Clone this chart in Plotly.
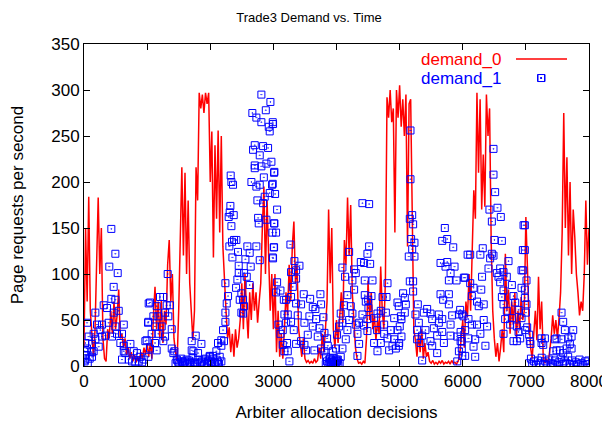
import plotly.graph_objects as go

# ---- demand_0 (red line), sampled every 25 decisions ----
red_step = 25
demand_0 = [
    # 0 - 1000
    20, 150, 70, 184, 60, 30, 10, 40, 120, 183, 100, 150, 30, 8, 5, 40, 30, 60, 35, 70,
    40, 55, 83, 30, 35, 20, 30, 12, 20, 8, 15, 5, 12, 4, 10, 6, 15, 8, 20, 12, 25,
    # 1025 - 1975
    10, 25, 8, 55, 86, 40, 70, 30, 72, 25, 60, 45, 110, 137, 70, 100, 30, 15, 5, 60,
    145, 216, 120, 210, 100, 180, 90, 60, 28, 60, 216, 180, 297, 280, 295, 275, 297, 285, 297,
    # 2000 - 3000
    200, 255, 118, 240, 160, 256, 145, 250, 130, 90, 60, 30, 42, 15, 35, 10, 40, 20, 30, 50,
    90, 40, 100, 60, 30, 80, 50, 90, 60, 80, 47, 70, 90, 150, 195, 100, 180, 120, 60, 100, 40,
    # 3025 - 4000
    100, 15, 60, 10, 35, 8, 40, 80, 55, 110, 70, 130, 157, 90, 110, 40, 25, 10, 30, 8,
    4, 6, 3, 5, 3, 8, 4, 6, 20, 8, 35, 15, 40, 70, 170, 90, 150, 40, 20, 50,
    # 4025 - 5000
    25, 55, 80, 47, 137, 110, 183, 120, 175, 80, 50, 20, 8, 3, 4, 2, 5, 3, 30, 93,
    50, 80, 40, 55, 28, 50, 35, 108, 60, 40, 93, 292, 270, 300, 265, 280, 145, 300, 270, 305,
    # 5025 - 6000
    260, 290, 250, 295, 130, 285, 290, 160, 40, 28, 10, 35, 15, 40, 8, 25, 10, 15, 5, 3,
    6, 2, 4, 2, 5, 3, 6, 2, 4, 3, 5, 2, 6, 3, 4, 2, 5, 10, 30, 50,
    # 6025 - 7000
    20, 70, 53, 100, 60, 118, 191, 160, 297, 210, 290, 170, 230, 173, 295, 250, 280, 137, 60, 30,
    10, 25, 5, 20, 40, 15, 122, 60, 83, 35, 70, 45, 80, 30, 60, 40, 75, 50, 60, 162,
    # 7025 - 8000
    100, 50, 20, 8, 35, 60, 28, 97, 40, 70, 10, 3, 8, 2, 15, 30, 55, 35, 50, 30,
    52, 80, 145, 275, 150, 227, 120, 200, 100, 170, 140, 100, 80, 55, 70, 60, 100, 180, 110, 150,
]
demand_0_x = [i * red_step for i in range(len(demand_0))]

# ---- demand_1 (blue squares) ----
demand_1_x = [
    # 0 - 1000
    433, 497, 401, 534, 470, 433, 497, 48, 180, 312, 365, 470, 550, 206, 286, 390, 497, 630,
    74, 153, 259, 338, 444, 523, 602, 21, 127, 233, 48, 153, 5, 21, 127, 180, 286, 576, 630,
    655, 735, 788, 840, 893, 946, 972, 1025, 1014, 708, 761, 814, 867, 920, 602, 630,
    10, 30, 60, 90, 120,
    # 1000 - 2000
    1326, 1046, 1204, 1257, 1151, 1310, 1363, 1099, 1178, 1284, 1336, 1020, 1125, 1231, 1390,
    1072, 1178, 1284, 993, 1125, 1257, 1046, 1151, 1020, 1390, 1416, 1469, 1548, 1627, 1706,
    1770, 1733, 1807, 1860, 1913, 1966, 1495, 1574, 1680, 1760, 1860, 2019, 1432, 1706, 1993,
    1450, 1480, 1510, 1540, 1570, 1600, 1630, 1660, 1690, 1720, 1750, 1780, 1810, 1840, 1870,
    1900, 1930, 1960, 1990, 2020, 2050, 2080, 2110, 2140,
    # 2000 - 3000
    2810, 2953, 2880, 2667, 2731, 2810, 2995, 2927, 2942, 2705, 2837, 2916, 2678, 2784, 2969,
    2890, 2705, 2810, 2705, 3011, 2849, 2652, 2784, 2979, 2731, 2942, 2863, 2747, 2837, 3011,
    2758, 2768, 2890, 2985, 3011, 2995, 2324, 2335, 2361, 2319, 2308, 2372, 2292, 2335, 2377,
    2414, 2345, 2303, 2440, 2351, 2588, 2731, 2625, 2557, 2784, 2451, 2641, 2536, 2451, 2578,
    2240, 2430, 2625, 2409, 2493, 2282, 2520, 2467, 2261, 2536, 2493, 2240, 2520, 2203, 2240,
    2176, 2218, 2123, 2176, 2097, 2044, 1991, 2150, 2018, 2071, 2123, 2176,
    # 3000 - 4000
    2990, 3016, 2990, 3027, 3059, 3016, 3043, 3006, 2990, 3270, 3333, 3413, 3280, 3360, 3360,
    3307, 3059, 3112, 3043, 3165, 3202, 3280, 3481, 3582, 3745, 3360, 3439, 3624, 3756, 3666,
    3793, 3677, 3228, 3175, 3386, 3571, 3080, 3202, 3280, 3492, 3624, 3149, 3323, 3730, 3809,
    3112, 3545, 3703, 3851, 3439, 3360, 3492, 3217, 3149, 3518, 3650, 3756, 3809, 3175, 3228,
    3254, 3835, 3888, 3915, 3967, 4020, 3941, 3993, 4009, 3862,
    3830, 3850, 3870, 3890, 3910, 3930, 3950, 3970, 3990, 4010, 4030, 4050, 3900, 3940,
    # 4000 - 5000
    4411, 4517, 4517, 4490, 4200, 4385, 4437, 4533, 4094, 4279, 4305, 4136, 4252, 4448, 4570,
    4808, 4279, 4173, 4448, 4554, 4729, 4792, 4501, 4120, 4226, 4464, 4966, 4506, 4067, 4252,
    4411, 4649, 4702, 4782, 4200, 4358, 4490, 4596, 4914, 5020, 4094, 4305, 4437, 4755, 4041,
    4173, 4490, 4643, 4861, 4966, 4147, 4332, 4358, 4596, 4702, 4808, 4914, 4993, 4094, 4332,
    4649, 4834, 4940, 4067, 3989, 4015, 4887, 4755,
    # 5000 - 6000
    5172, 5172, 5199, 5161, 5214, 5716, 5675, 5754, 5849, 5182, 5235, 5199, 5235, 5145, 5648,
    5754, 5870, 5727, 5807, 5780, 5902, 6018, 5161, 5214, 5214, 5055, 5648, 5082, 5780, 5690,
    5098, 5288, 5780, 4987, 5436, 5082, 5251, 5383, 5489, 5621, 5833, 5939, 5992, 5029, 5516,
    5675, 5304, 5621, 5807, 5002, 5277, 5409, 5542, 5675, 5966, 5029, 5357, 5595, 5807, 5913,
    5277, 5489, 5330, 5516, 4987, 5701, 5966, 5939, 5595, 5357, 5913, 5992,
    # 6000 - 7000
    6487, 6487, 6513, 6423, 6550, 6603, 6461, 6963, 6502, 6620, 6952, 6317, 6077, 6118, 6279,
    6461, 6434, 6487, 6725, 6408, 6593, 6931, 6540, 6646, 6038, 6306, 6566, 6698, 6118, 6593,
    6778, 6931, 6171, 6293, 6646, 6144, 6804, 6620, 6226, 6332, 6646, 6831, 6253, 5959, 6698,
    6884, 6012, 6091, 6332, 6672, 6778, 6931, 6144, 6226, 6386, 6751, 6857, 6038, 6279, 6646,
    6884, 6990, 6091, 6197, 6359, 6804, 6910, 5985, 5985, 6171, 6038, 6197, 6857,
    # 7000 - 8000
    7248, 6984, 6984, 6957, 7010, 6984, 6984, 7010, 7000, 7021, 7052, 7063, 7073, 7248, 7301,
    7248, 7275, 7459, 7485, 7565, 7591, 7618, 7750, 7724, 7671, 7565, 7697, 7645, 7724, 7539,
    7485, 7433, 7591,
    7050, 7080, 7100, 7130, 7160, 7190, 7220, 7250, 7280, 7310, 7340, 7370, 7400, 7430, 7460,
    7490, 7520, 7550, 7580, 7610, 7640, 7670, 7700, 7730, 7760, 7790, 7820, 7850, 7880, 7910,
    7940, 7970, 7990,
]
demand_1_y = [
    # 0 - 1000
    149, 122, 108, 101, 86, 73, 72, 47, 58, 66, 63, 58, 60, 45, 45, 47, 43, 45,
    32, 35, 39, 33, 32, 35, 35, 25, 24, 21, 19, 16, 16, 7, 10, 29, 32, 25, 22,
    14, 24, 16, 14, 10, 7, 27, 68, 47, 7, 5, 4, 5, 4, 7, 16,
    5, 12, 3, 8, 15,
    # 1000 - 2000
    100, 69, 75, 75, 65, 66, 66, 54, 54, 58, 54, 48, 43, 43, 40,
    35, 35, 32, 28, 25, 27, 19, 17, 10, 19, 14, 7, 5, 7, 27,
    33, 16, 14, 24, 7, 5, 4, 4, 4, 3, 4, 4, 16, 17, 11,
    3, 6, 2, 8, 3, 5, 2, 6, 3, 9, 4, 2, 7, 3, 5,
    2, 8, 3, 6, 2, 8, 3, 6, 2,
    # 2000 - 3000
    295, 287, 278, 275, 270, 265, 263, 260, 255, 240, 239, 237, 235, 229, 222,
    220, 218, 217, 215, 210, 205, 200, 197, 197, 195, 188, 184, 180, 177, 155,
    161, 155, 159, 145, 129, 117, 207, 200, 197, 174, 167, 164, 162, 152, 137,
    137, 135, 130, 124, 118, 130, 130, 123, 116, 115, 109, 108, 101, 101, 97,
    90, 94, 88, 85, 79, 76, 72, 72, 68, 65, 58, 58, 57, 39, 48,
    28, 27, 25, 22, 16, 11, 10, 10, 5, 4, 4, 5,
    # 3000 - 4000
    265, 211, 198, 187, 170, 155, 145, 129, 118, 132, 114, 109, 102, 104, 95,
    86, 91, 82, 80, 72, 72, 75, 78, 73, 78, 68, 67, 64, 67, 62,
    53, 51, 56, 56, 55, 54, 45, 47, 48, 47, 43, 39, 39, 41, 36,
    35, 34, 32, 30, 27, 24, 23, 25, 23, 17, 17, 19, 16, 16, 16,
    5, 10, 7, 4, 5, 7, 16, 19, 34, 22,
    2, 5, 1, 4, 2, 6, 1, 3, 2, 5, 1, 3, 8, 9,
    # 4000 - 5000
    177, 176, 130, 122, 124, 113, 112, 111, 107, 105, 101, 97, 93, 93, 93,
    90, 83, 77, 77, 76, 75, 75, 72, 66, 65, 70, 69, 63, 57, 57,
    56, 57, 60, 58, 50, 47, 51, 52, 52, 54, 47, 45, 44, 45, 43,
    39, 38, 39, 39, 39, 29, 35, 24, 25, 25, 30, 29, 25, 19, 11,
    16, 17, 19, 10, 7, 5, 22, 35,
    # 5000 - 6000
    256, 203, 164, 160, 154, 150, 136, 138, 129, 138, 134, 127, 119, 119, 112,
    113, 108, 108, 101, 93, 93, 96, 92, 92, 81, 79, 78, 74, 78, 72,
    67, 67, 67, 65, 62, 58, 56, 58, 57, 56, 55, 56, 56, 51, 51,
    51, 47, 47, 45, 43, 39, 39, 41, 37, 37, 32, 33, 33, 33, 32,
    29, 27, 25, 22, 22, 25, 27, 16, 14, 6, 5, 11,
    # 6000 - 7000
    236, 208, 189, 170, 172, 162, 157, 153, 137, 136, 126, 128, 121, 121, 121,
    122, 117, 120, 114, 106, 106, 104, 101, 102, 96, 97, 97, 97, 90, 91,
    88, 85, 85, 83, 82, 76, 76, 75, 70, 67, 67, 69, 65, 61, 60,
    61, 54, 51, 50, 51, 52, 52, 45, 45, 43, 45, 43, 39, 35, 35,
    37, 39, 30, 29, 22, 27, 30, 27, 19, 21, 11, 10, 27,
    # 7000 - 8000
    313, 153, 126, 104, 93, 83, 74, 67, 58, 42, 34, 27, 24, 30, 30,
    25, 23, 29, 30, 58, 48, 39, 39, 32, 30, 29, 24, 19, 19, 17,
    17, 16, 14,
    3, 8, 2, 5, 1, 6, 3, 9, 2, 5, 1, 7, 3, 2, 6,
    1, 4, 8, 2, 5, 3, 10, 2, 6, 1, 4, 2, 7, 3, 1,
    5, 2, 6,
]
assert len(demand_1_x) == len(demand_1_y), (len(demand_1_x), len(demand_1_y))

x_ticks = [0, 1000, 2000, 3000, 4000, 5000, 6000, 7000, 8000]
y_ticks = [0, 50, 100, 150, 200, 250, 300, 350]

FONT = "Liberation Sans, Arial, Helvetica, sans-serif"
RED = "#ff0000"
BLUE = "#0000ff"

fig = go.Figure()
fig.add_trace(go.Scatter(
    x=demand_0_x, y=demand_0, mode="lines", name="demand_0",
    line=dict(color=RED, width=1.5), showlegend=False,
))
fig.add_trace(go.Scatter(
    x=demand_1_x, y=demand_1_y, mode="markers", name="demand_1",
    marker=dict(symbol="square-open-dot", size=7, color=BLUE, line=dict(width=1, color=BLUE)),
    showlegend=False,
))

# page offset (body margin) compensation
OFF = 8
W, H = 610 - OFF, 426 - OFF
# plot area in absolute window pixels
PL, PR, PT, PB = 84, 589, 44, 366
L, T = PL - OFF, PT - OFF
R = W - (PR - OFF)
B = H - (PB - OFF)

def px_x(p):
    return (p - PL) / (PR - PL)

def px_y(p):
    return (PB - p) / (PB - PT)

axis_common = dict(
    showline=True, linecolor="black", linewidth=1, mirror="ticks",
    ticks="inside", ticklen=6, tickcolor="black", showgrid=False, zeroline=False,
    automargin=False,
    tickfont=dict(family=FONT, size=17, color="black"),
)

fig.update_layout(
    width=W, height=H,
    margin=dict(l=L, r=R, t=T, b=B, autoexpand=False),
    paper_bgcolor="white", plot_bgcolor="white",
    title=dict(text="Trade3 Demand vs. Time", x=0.5, xanchor="center",
               y=1 - 9 / H, yanchor="middle",
               font=dict(family=FONT, size=13, color="black")),
    xaxis=dict(range=[0, 8000], tickvals=x_ticks, ticktext=[str(v) for v in x_ticks],
               title=dict(text="Arbiter allocation decisions", standoff=15,
                          font=dict(family=FONT, size=17, color="black")),
               **axis_common),
    yaxis=dict(range=[0, 350], tickvals=y_ticks, ticktext=[str(v) for v in y_ticks],
               title=dict(text="Page requests per second", standoff=25,
                          font=dict(family=FONT, size=17, color="black")),
               **axis_common),
    showlegend=False,
)

# gnuplot-style key: text on the left, sample on the right
fig.add_annotation(x=px_x(503), y=px_y(60), xref="paper", yref="paper", text="demand_0",
                   showarrow=False, xanchor="right", yanchor="middle",
                   font=dict(family=FONT, size=17, color=RED))
fig.add_annotation(x=px_x(503), y=px_y(78), xref="paper", yref="paper", text="demand_1",
                   showarrow=False, xanchor="right", yanchor="middle",
                   font=dict(family=FONT, size=17, color=BLUE))
fig.add_shape(type="line", xref="paper", yref="paper",
              x0=px_x(516), x1=px_x(567), y0=px_y(59), y1=px_y(59),
              line=dict(color=RED, width=1.3))
fig.add_shape(type="rect", xref="paper", yref="paper",
              x0=px_x(537.5), x1=px_x(544.5), y0=px_y(81.5), y1=px_y(74.5),
              line=dict(color=BLUE, width=1))
fig.add_shape(type="rect", xref="paper", yref="paper",
              x0=px_x(540.5), x1=px_x(541.5), y0=px_y(78.5), y1=px_y(77.5),
              line=dict(color=BLUE, width=1), fillcolor=BLUE)

fig.write_html("out.html")
